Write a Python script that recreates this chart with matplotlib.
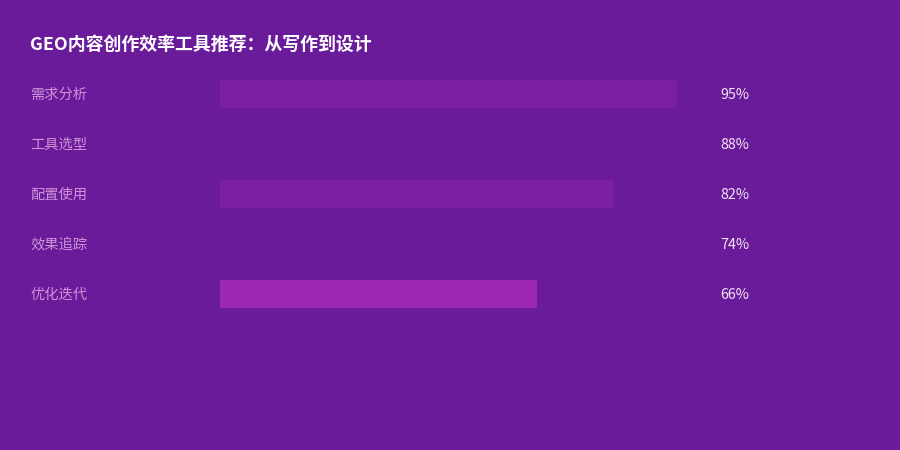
import matplotlib
matplotlib.use("Agg")
import matplotlib.pyplot as plt
from matplotlib import transforms

plt.rcParams['font.family'] = ['Noto Sans CJK SC', 'DejaVu Sans']

title = "GEO内容创作效率工具推荐：从写作到设计"
categories = ["需求分析", "工具选型", "配置使用", "效果追踪", "优化迭代"]
values = [95, 88, 82, 74, 66]
value_labels = ["95%", "88%", "82%", "74%", "66%"]
bar_colors = ["#7b1fa2", "#6a1b9a", "#7b1fa2", "#6a1b9a", "#9c27b0"]

bg = "#6a1b9a"
W, H = 900, 450
fig = plt.figure(figsize=(9, 4.5), dpi=100, facecolor=bg)

# axes: x 220..701 px, y 69..319 px
ax = fig.add_axes([220 / W, 1 - 319 / H, 481 / W, 250 / H])
ax.set_facecolor(bg)
ax.patch.set_alpha(0)
ypos = list(range(len(categories)))
ax.barh(ypos, values, height=0.56, color=bar_colors, linewidth=0)
ax.set_xlim(0, 100)
ax.set_ylim(len(categories) - 0.5, -0.5)
ax.axis('off')

tr = transforms.blended_transform_factory(fig.transFigure, ax.transData)
for i, (c, lab) in enumerate(zip(categories, value_labels)):
    ax.text(30 / W, i + 0.02, c, transform=tr, ha='left', va='center',
            fontsize=10.3, color="#ce93d8")
    ax.text(720 / W, i + 0.02, lab, transform=tr, ha='left', va='center',
            fontsize=10.3, color="#f3e5f5")

fig.text(30 / W, 1 - 45 / H, title, ha='left', va='center',
         fontsize=12.9, fontweight='bold', color='white')

fig.savefig("out.png", dpi=100, facecolor=bg)
